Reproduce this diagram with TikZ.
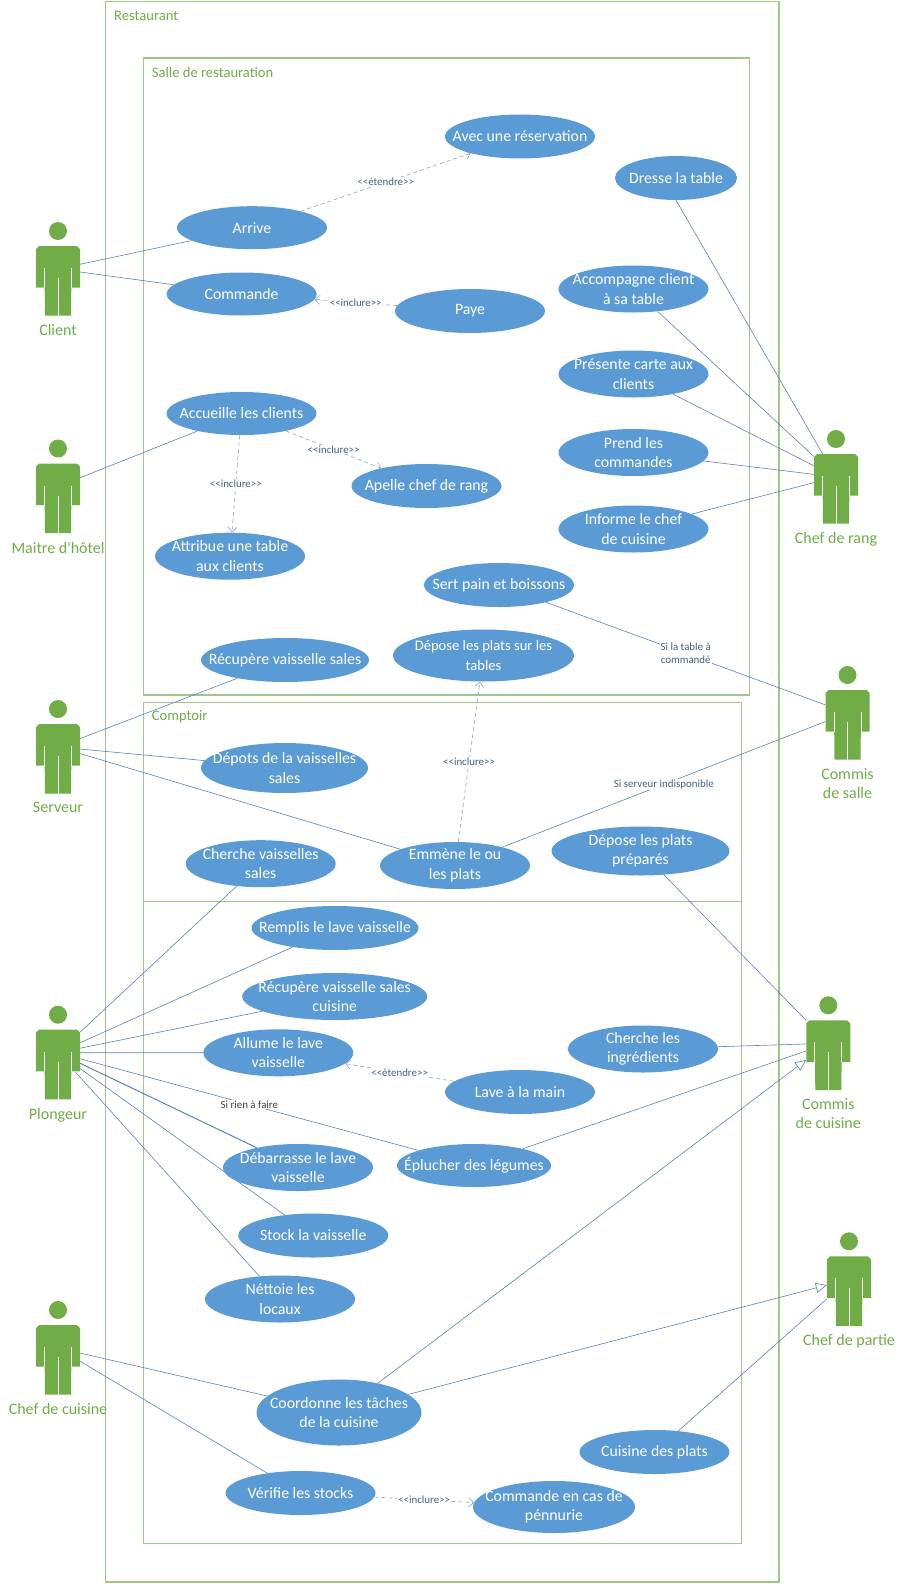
\documentclass[tikz,border=0pt]{standalone}
\usepackage{fontspec}
\setmainfont{Carlito}
\usetikzlibrary{shapes.geometric,arrows.meta,backgrounds}
\definecolor{actorgreen}{HTML}{70AD47}
\definecolor{framegreen}{HTML}{A3C686}
\definecolor{casefill}{HTML}{5B9BD5}
\definecolor{assocblue}{HTML}{5B82B0}
\definecolor{dashblue}{HTML}{8AA6C4}
\definecolor{notetext}{HTML}{44607F}
\newcommand{\stereo}[1]{{<}{<}#1{>}{>}}
\tikzset{
  usecase/.style={ellipse,fill=casefill,text=white,inner sep=-30pt,minimum width=150pt,minimum height=44pt,align=center,font=\fontsize{15.8}{19.5}\selectfont},
  actor/.style={rectangle,inner sep=0pt,minimum width=44pt,minimum height=94pt,
    path picture={
      \begin{scope}[shift={(path picture bounding box.center)}]
      \fill[actorgreen] (0,-38) circle (9);
      \fill[actorgreen] (-19,-23) -- (19,-23) -- (22,-20) -- (22,18.7) -- (13.3,18.7) -- (13,46.7) -- (-13,46.7) -- (-13.3,18.7) -- (-22,18.7) -- (-22,-20) -- cycle;
      \draw[white,line width=0.7pt] (-13.5,-1) -- (-13.5,19);
      \draw[white,line width=0.7pt] (13.5,-1) -- (13.5,19);
      \draw[white,line width=0.7pt] (0,9) -- (0,47);
      \end{scope}
    }},
  actorname/.style={text=actorgreen,inner sep=0pt,align=center,font=\fontsize{16}{19}\selectfont},
  framebox/.style={framegreen,line width=1.2pt},
  frametitle/.style={text=actorgreen,anchor=west,inner sep=0pt,font=\fontsize{14.6}{16}\selectfont},
  assoc/.style={assocblue,line width=0.6pt},
  inclusion/.style={dashblue,line width=0.6pt,dash pattern=on 4pt off 3pt,-{Straight Barb[length=5pt,width=9pt]}},
  generalize/.style={assocblue,line width=0.6pt,-{Triangle[open,fill=white,length=11pt,width=10pt]}},
  note/.style={midway,fill=white,text=notetext,inner sep=1pt,align=center,font=\fontsize{10.9}{13}\selectfont}
}
\begin{document}
\begin{tikzpicture}[x=1pt,y=-1pt,label distance=8pt]
    \useasboundingbox (0,0) rectangle (904,1584);

    \node[frametitle] (restaurant) at (114,16) {Restaurant};
    \node[frametitle] (salle) at (151.7,72.7) {Salle de restauration};
    \node[frametitle] (comptoir) at (151.7,716.7) {Comptoir};

    \node[actor,label={[actorname]below:Client}] (client) at (58,269) {};
    \node[actor,label={[actorname]below:Maitre d\textquotesingle hôtel}] (maitre) at (58,486.5) {};
    \node[actor,label={[actorname]below:Serveur}] (serveur) at (58,747) {};
    \node[actor,label={[actorname]below:Plongeur}] (plongeur) at (58,1052.7) {};
    \node[actor,label={[actorname]below:Chef de cuisine}] (chefcuisine) at (58,1348) {};
    \node[actor,label={[actorname]below:Chef de rang}] (chefrang) at (836,477) {};
    \node[actor,label={[actorname]below:Commis\\de salle}] (commissalle) at (847.5,713) {};
    \node[actor,label={[actorname]below:Commis\\de cuisine}] (commiscuisine) at (828.3,1043.3) {};
    \node[actor,label={[actorname]below:Chef de partie}] (chefpartie) at (849,1279.3) {};

    \node[usecase] (avec) at (520,136.5) {Avec une réservation};
    \node[usecase,minimum width=122pt] (dresse) at (676,178) {Dresse la table};
    \node[usecase,minimum height=43pt] (arrive) at (252,227.7) {Arrive};
    \node[usecase,minimum height=43pt] (commande) at (241.6,294) {Commande};
    \node[usecase] (paye) at (470,311) {Paye};
    \node[usecase,minimum height=47pt] (accompagne) at (633.5,289) {Accompagne client\\à sa table};
    \node[usecase,minimum height=47pt] (presente) at (633.5,374) {Présente carte aux\\clients};
    \node[usecase,minimum height=47pt] (prend) at (633.5,452.5) {Prend les\\commandes};
    \node[usecase,minimum height=47pt] (informe) at (633.5,529) {Informe le chef\\de cuisine};
    \node[usecase,minimum height=43pt] (accueille) at (241.5,413.5) {Accueille les clients};
    \node[usecase] (apelle) at (426.5,486) {Apelle chef de rang};
    \node[usecase,minimum height=47pt] (attribue) at (230,556.2) {Attribue une table\\aux clients};
    \node[usecase] (sertpain) at (499,585) {Sert pain et boissons};
    \node[usecase,minimum width=168pt] (recupere) at (285,660) {Récupère vaisselle sales};
    \node[usecase,minimum width=181pt,minimum height=52pt,font=\fontsize{14.6}{19.5}\selectfont] (deposetables) at (483.5,655.5) {Dépose les plats sur les\\tables};
    \node[usecase,minimum width=167pt,minimum height=50pt] (depots) at (284.5,768) {Dépots de la vaisselles\\sales};
    \node[usecase,minimum height=47pt] (emmene) at (455,865.5) {Emmène le ou\\les plats};
    \node[usecase,minimum height=47pt] (cherchevaisselles) at (260.7,863.7) {Cherche vaisselles\\sales};
    \node[usecase,minimum width=178pt,minimum height=49pt] (deposeplats) at (640.5,851) {Dépose les plats\\préparés};
    \node[usecase,minimum width=167pt] (remplis) at (335,928) {Remplis le lave vaisselle};
    \node[usecase,minimum width=185pt,minimum height=47pt] (recuperecuisine) at (334.7,996.5) {Récupère vaisselle sales\\cuisine};
    \node[usecase,minimum height=47pt] (allume) at (278.3,1052.8) {Allume le lave\\vaisselle};
    \node[usecase] (lave) at (520,1092) {Lave à la main};
    \node[usecase,minimum height=47pt] (ingredients) at (643,1049) {Cherche les\\ingrédients};
    \node[usecase,minimum width=154pt,minimum height=43pt] (eplucher) at (474,1165.5) {Éplucher des légumes};
    \node[usecase,minimum height=47pt] (debarrasse) at (298,1167.5) {Débarrasse le lave\\vaisselle};
    \node[usecase] (stock) at (313.3,1235.5) {Stock la vaisselle};
    \node[usecase,minimum height=47pt] (nettoie) at (280,1299) {Néttoie les\\locaux};
    \node[usecase,minimum width=165pt,minimum height=66pt] (coordonne) at (339,1412.5) {Coordonne les tâches\\de la cuisine};
    \node[usecase] (verifie) at (300.5,1493) {Vérifie les stocks};
    \node[usecase] (cuisine) at (654.5,1452) {Cuisine des plats};
    \node[usecase,minimum width=162pt,minimum height=52pt] (penurie) at (554,1507) {Commande en cas de\\pénnurie};

    \coordinate (chefrangepaule) at (822.7,454);

    \begin{scope}[on background layer]
    \draw[framebox] (105.7,1.3) rectangle (779,1582);
    \draw[framebox] (143.3,58) rectangle (749.5,695);
    \draw[framebox] (143.3,702.7) rectangle (741.5,901.7);
    \draw[framebox] (143.3,901.7) rectangle (741.5,1543.5);

    \draw[assoc] (client) -- (arrive);
    \draw[assoc] (client) -- (commande);
    \draw[assoc] (maitre) -- (accueille);
    \draw[assoc] (serveur) -- (recupere);
    \draw[assoc] (serveur) -- (depots);
    \draw[assoc] (serveur) -- (emmene);
    \draw[assoc] (plongeur) -- (cherchevaisselles);
    \draw[assoc] (plongeur) -- (remplis);
    \draw[assoc] (plongeur) -- (recuperecuisine);
    \draw[assoc] (plongeur) -- (allume);
    \draw[assoc,line width=1pt] (plongeur) -- (debarrasse);
    \draw[assoc] (plongeur) -- (stock);
    \draw[assoc,shorten <=-7pt] (plongeur) -- (nettoie);
    \draw[assoc] (plongeur) -- (eplucher) node[note,text=black!75] {Si rien à faire};
    \draw[assoc] (chefcuisine) -- (coordonne);
    \draw[assoc] (chefcuisine) -- (verifie);
    \draw[assoc] (dresse.south) -- (chefrangepaule);
    \draw[assoc] (accompagne) -- (chefrang);
    \draw[assoc] (presente) -- (chefrang);
    \draw[assoc] (prend) -- (chefrang);
    \draw[assoc] (informe) -- (chefrang);
    \draw[assoc] (sertpain) -- (commissalle) node[note] {Si la table à\\commandé};
    \draw[assoc] (emmene) -- (commissalle) node[note] {Si serveur indisponible};
    \draw[assoc] (deposeplats) -- (commiscuisine.134);
    \draw[assoc] (ingredients) -- (commiscuisine);
    \draw[assoc] (eplucher) -- (commiscuisine);
    \draw[assoc] (cuisine) -- (chefpartie);
    \draw[generalize] (coordonne) -- (commiscuisine);
    \draw[generalize] (coordonne) -- (chefpartie);

    \draw[inclusion] (arrive) -- (avec) node[note] {\stereo{étendre}};
    \draw[inclusion] (paye) -- (commande) node[note] {\stereo{inclure}};
    \draw[inclusion] (accueille) -- (apelle) node[note] {\stereo{inclure}};
    \draw[inclusion] (accueille) -- (attribue) node[note] {\stereo{inclure}};
    \draw[inclusion] (emmene) -- (deposetables) node[note] {\stereo{inclure}};
    \draw[inclusion] (lave) -- (allume) node[note] {\stereo{étendre}};
    \draw[inclusion] (verifie) -- (penurie) node[note] {\stereo{inclure}};
    \end{scope}
\end{tikzpicture}
\end{document}
